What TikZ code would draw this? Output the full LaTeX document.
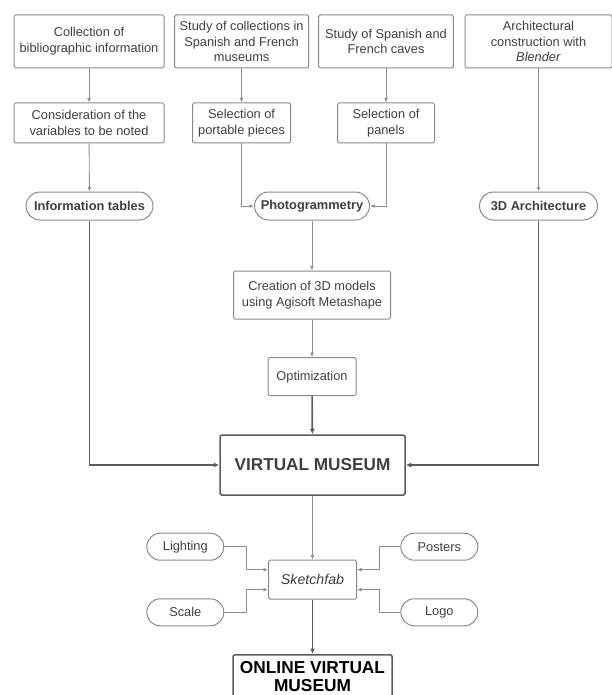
\documentclass[tikz,border=0pt]{standalone}
\usepackage{fontspec}
\setmainfont{Liberation Sans}
\usetikzlibrary{arrows.meta}

\definecolor{boxgray}{HTML}{8A8A8A}
\definecolor{linegray}{HTML}{8E8E8E}
\definecolor{darkline}{HTML}{5C5C5C}
\definecolor{textgray}{HTML}{3F3F3F}

\begin{document}
\begin{tikzpicture}[x=1pt, y=-1pt,
        box/.style={draw=boxgray, line width=1pt, rounded corners=1.5pt, align=center,
            inner sep=0pt, text=textgray, font=\fontsize{12.8}{15.8}\selectfont},
        pill/.style={box, rounded corners=13.5pt, minimum height=27pt},
        heavy/.style={font=\fontsize{12.8}{15.8}\selectfont\bfseries},
        link/.style={draw=linegray, line width=0.9pt, -{Latex[length=4.5pt,width=4pt]}},
        mainlink/.style={draw=darkline, line width=1.6pt, -{Latex[length=5.5pt,width=5pt]}}]
    \useasboundingbox (0,0) rectangle (612,695);

    % Starting tasks
    \node[box, minimum width=150pt, minimum height=53pt] (biblio) at (89,41.5)
        {Collection of\\bibliographic information};
    \node[box, minimum width=134pt, minimum height=53pt] (collections) at (241.6,41.5)
        {Study of collections in\\Spanish and French\\museums};
    \node[box, minimum width=134.6pt, minimum height=53pt] (caves) at (386,41.5)
        {Study of Spanish and\\French caves};
    \node[box, minimum width=147pt, minimum height=53pt] (blender) at (538.5,41.5)
        {Architectural\\construction with\\\textit{Blender}};

    % Selections
    \node[box, minimum width=150pt, minimum height=40pt] (variables) at (89,123)
        {Consideration of the\\variables to be noted};
    \node[box, minimum width=98pt, minimum height=40pt] (portable) at (241.6,123)
        {Selection of\\portable pieces};
    \node[box, minimum width=97pt, minimum height=40pt] (panels) at (386,123)
        {Selection of\\panels};

    % Results
    \node[pill, heavy, minimum width=127pt, rounded corners=14pt, minimum height=28pt] (tables) at (89.5,206)
        {Information tables};
    \node[pill, heavy, minimum width=115pt, rounded corners=14pt, minimum height=28pt] (photo) at (312,206)
        {Photogrammetry};
    \node[pill, heavy, minimum width=118pt, rounded corners=14pt, minimum height=28pt] (arch) at (538.5,206)
        {3D Architecture};

    % Modelling
    \node[box, minimum width=157pt, minimum height=48pt] (models) at (312,295)
        {Creation of 3D models\\using Agisoft Metashape};
    \node[box, minimum width=88pt, minimum height=38pt] (optim) at (312,376.7)
        {Optimization};

    % Museum
    \node[box, draw=darkline, line width=1.5pt, minimum width=185pt, minimum height=60pt,
        font=\fontsize{17.2}{19}\selectfont\bfseries] (museum) at (312.5,465)
        {VIRTUAL MUSEUM};

    % Sketchfab and its settings
    \node[box, minimum width=88pt, minimum height=39pt,
        font=\fontsize{14.2}{16}\selectfont\itshape] (sketchfab) at (312.5,579.7) {Sketchfab};
    \node[pill, minimum width=77pt] (lighting) at (185.3,546.7) {Lighting};
    \node[pill, minimum width=77pt] (scale) at (185.3,612.3) {Scale};
    \node[pill, minimum width=77pt] (posters) at (439.3,546.7) {Posters};
    \node[pill, minimum width=77pt] (logo) at (439.3,612.3) {Logo};

    % Online museum
    \node[box, draw=darkline, line width=1.5pt, anchor=north, minimum width=159pt, minimum height=43pt,
        text=black, font=\fontsize{17.3}{18.3}\selectfont\bfseries] (online) at (312.5,654)
        {ONLINE VIRTUAL\\MUSEUM};

    % Connectors
    \draw[link] (biblio) -- (variables);
    \draw[link] (collections) -- (portable);
    \draw[link] (caves) -- (panels);
    \draw[link] (variables) -- (tables);
    \draw[link] (blender) -- (arch);
    \draw[link] (portable.south) |- (photo.west);
    \draw[link] (panels.south) |- (photo.east);
    \draw[link] (photo) -- (models);
    \draw[link] (models) -- (optim);
    \draw[mainlink] (optim) -- (museum);
    \draw[mainlink] (tables.south) |- (museum.west);
    \draw[mainlink] (arch.south) |- (museum.east);
    \draw[link] (museum) -- (sketchfab);
    \draw[link] (lighting.east) -| ([xshift=-22pt,yshift=10pt]sketchfab.west) -- ([yshift=10pt]sketchfab.west);
    \draw[link] (scale.east) -| ([xshift=-22pt,yshift=-10pt]sketchfab.west) -- ([yshift=-10pt]sketchfab.west);
    \draw[link] (posters.west) -| ([xshift=22pt,yshift=10pt]sketchfab.east) -- ([yshift=10pt]sketchfab.east);
    \draw[link] (logo.west) -| ([xshift=22pt,yshift=-10pt]sketchfab.east) -- ([yshift=-10pt]sketchfab.east);
    \draw[mainlink] (sketchfab) -- (online);
\end{tikzpicture}
\end{document}
